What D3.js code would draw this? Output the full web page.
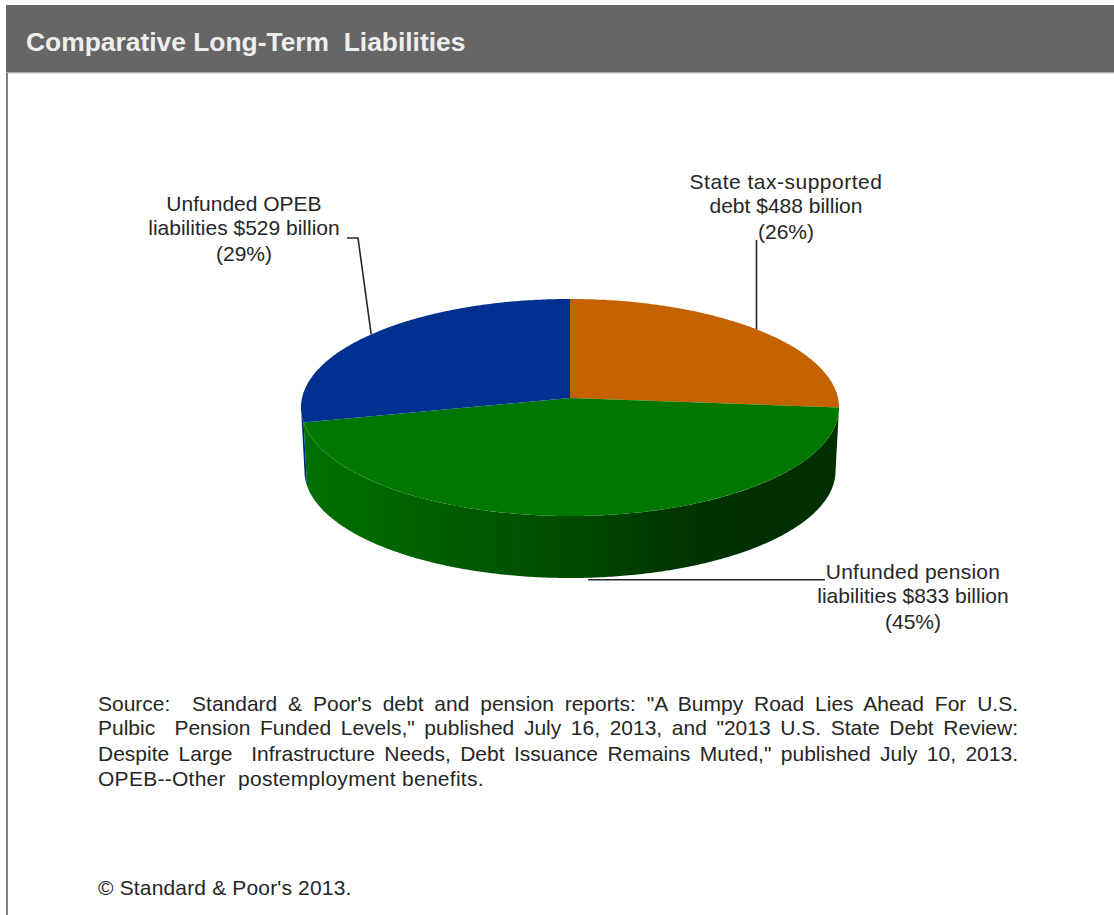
<!DOCTYPE html>
<html>
<head>
<meta charset="utf-8">
<script src="https://cdn.jsdelivr.net/npm/d3@7/dist/d3.min.js"></script>
<style>
html,body{margin:0;padding:0;background:#fff;overflow:hidden}
svg{display:block}
text{font-family:"Liberation Sans",Arial,sans-serif}
</style>
</head>
<body>
<svg id="chart" width="1114" height="915"></svg>
<script>
// Long-term liabilities, billions of dollars
const categories = ["State tax-supported debt", "Unfunded pension liabilities", "Unfunded OPEB liabilities"];
const billions = [488, 833, 529];
const percents = [26, 45, 29];
const topColors = ["#c46200", "#007800", "#003090"];
const sideColors = ["#7a3d00", "url(#pensionSide)", "#002a80"];
const labelLines = [
  ["State tax-supported", "debt $488 billion", "(26%)"],
  ["Unfunded pension", "liabilities $833 billion", "(45%)"],
  ["Unfunded OPEB", "liabilities $529 billion", "(29%)"]
];
const titleText = "Comparative Long-Term  Liabilities";
const sourceLines = [
  "Source:  Standard & Poor's debt and pension reports: \"A Bumpy Road Lies Ahead For U.S.",
  "Pulbic  Pension Funded Levels,\" published July 16, 2013, and \"2013 U.S. State Debt Review:",
  "Despite Large  Infrastructure Needs, Debt Issuance Remains Muted,\" published July 10, 2013.",
  "OPEB--Other  postemployment benefits."
];
const copyrightText = "© Standard & Poor's 2013.";

const svg = d3.select("#chart");
const TAU = Math.PI * 2;
const bodySize = 21;
const inkColor = "#262626";

// Page frame and header band
svg.append("rect").attr("x", 6).attr("y", 72).attr("width", 2).attr("height", 843).attr("fill", "#7f7f7f");
svg.append("rect").attr("x", 6).attr("y", 5).attr("width", 1108).attr("height", 67).attr("fill", "#666666");
svg.append("rect").attr("x", 6).attr("y", 72).attr("width", 1108).attr("height", 1).attr("fill", "#a8a8a8");
svg.append("rect").attr("x", 8).attr("y", 73).attr("width", 1106).attr("height", 1).attr("fill", "#e2e2e2");
svg.append("text").attr("x", 26).attr("y", 51).attr("font-size", 26.4).attr("font-weight", "bold")
  .attr("fill", "#eeeeee").style("white-space", "pre").text(titleText);

// Tilted disc: a unit circle seen in perspective
const tilt = 0.0876;
const sx = d3.scaleLinear().domain([-1, 1]).range([570 - 268, 570 + 268]);
const syTop = d3.scaleLinear().domain([-1, 1]).range([398 - 107.7, 398 + 107.7]);
const syBase = d3.scaleLinear().domain([-1, 1]).range([461.5 - 106.3, 461.5 + 106.3]);
const baseShrink = 0.987;

function rim(angle, base) {
  const u = Math.sin(angle), v = -Math.cos(angle), w = 1 - tilt * v;
  const k = base ? baseShrink : 1;
  const x = 570 + (sx(u / w) - 570) * k;
  const y = (base ? syBase : syTop)(v / w);
  return [x, y];
}
function arcPoints(a0, a1, base) {
  const n = Math.max(2, Math.ceil(Math.abs(a1 - a0) / 0.01));
  return d3.range(n + 1).map(i => rim(a0 + (a1 - a0) * i / n, base));
}

const line = d3.line();
const slices = d3.pie().sort(null).value(d => d)(billions);

// Shading along the front wall of the pension slice
const defs = svg.append("defs");
const grad = defs.append("linearGradient").attr("id", "pensionSide")
  .attr("gradientUnits", "userSpaceOnUse").attr("x1", 303).attr("x2", 839).attr("y1", 0).attr("y2", 0);
[[0, "#007000"], [0.18, "#006400"], [0.36, "#005600"], [0.54, "#004600"], [0.72, "#003400"], [0.8, "#003000"], [1, "#003000"]]
  .forEach(s => grad.append("stop").attr("offset", s[0]).attr("stop-color", s[1]));

// Front wall limits: the disc's silhouette points
const wallStart = Math.acos(-tilt), wallEnd = TAU - wallStart;

svg.append("g").selectAll("path").data(slices).join("path")
  .attr("d", d => {
    const a0 = Math.max(d.startAngle, wallStart), a1 = Math.min(d.endAngle, wallEnd);
    if (a1 <= a0) return null;
    return line(arcPoints(a0, a1, false).concat(arcPoints(a1, a0, true))) + "Z";
  })
  .attr("fill", (d, i) => sideColors[i]);

svg.append("g").selectAll("path").data(slices).join("path")
  .attr("d", d => line([[sx(0), syTop(0)]].concat(arcPoints(d.startAngle, d.endAngle, false))) + "Z")
  .attr("fill", (d, i) => topColors[i]);

// Leader lines run from each slice's mid-angle on the rim
const mid = d => (d.startAngle + d.endAngle) / 2;
const leaderRoutes = [
  d => { const p = rim(mid(d), false); return [p, [p[0], 240]]; },
  d => { const p = rim(mid(d), true); return [[p[0] - 2, p[1] + 2], [825, p[1] + 2]]; },
  d => { const p = rim(mid(d), false); return [p, [358, 238], [347, 238]]; }
];
svg.append("g").selectAll("path").data(slices).join("path")
  .attr("d", (d, i) => line(leaderRoutes[i](d)))
  .attr("fill", "none").attr("stroke", inkColor).attr("stroke-width", 1.6);

// Slice labels
const labelAnchors = [
  { x: 786, y: [189, 213, 239], spread: [0.5, 0, 0] },
  { x: 913, y: [579, 603, 629], spread: [0.25, 0, 0] },
  { x: 244, y: [211, 235, 261], spread: [0, 0, 0] }
];
labelLines.forEach((lines, i) => {
  svg.append("g").selectAll("text").data(lines).join("text")
    .attr("x", labelAnchors[i].x).attr("y", (d, j) => labelAnchors[i].y[j])
    .attr("text-anchor", "middle").attr("font-size", bodySize).attr("fill", inkColor)
    .style("letter-spacing", (d, j) => labelAnchors[i].spread[j] + "px")
    .text(d => d);
});

// Justified source note
const sourceY = [711, 735, 761, 786];
const noteRight = 1018, noteLeft = 98;
svg.append("g").selectAll("text").data(sourceLines).join("text")
  .attr("x", noteLeft).attr("y", (d, i) => sourceY[i])
  .attr("font-size", bodySize).attr("fill", inkColor)
  .style("white-space", "pre").text(d => d)
  .each(function (d, i) {
    if (i === sourceLines.length - 1) {
      d3.select(this).style("letter-spacing", "0.27px");
      return;
    }
    const gaps = d.split(" ").length - 1;
    const extra = (noteRight - noteLeft - this.getComputedTextLength()) / gaps;
    d3.select(this).style("word-spacing", extra + "px");
  });

svg.append("text").attr("x", noteLeft).attr("y", 895).attr("font-size", bodySize).attr("fill", inkColor)
  .style("letter-spacing", "0.16px").text(copyrightText);
</script>
</body>
</html>
